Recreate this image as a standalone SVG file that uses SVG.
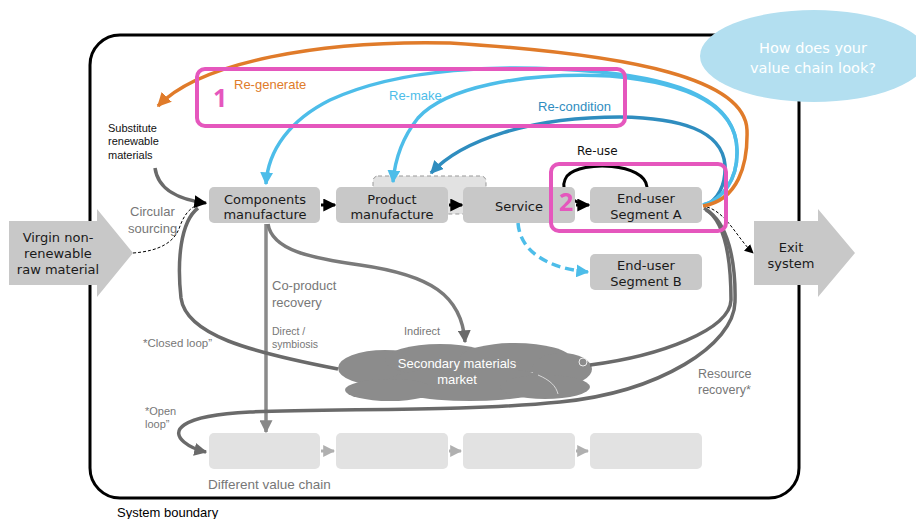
<svg xmlns="http://www.w3.org/2000/svg" width="916" height="519" viewBox="0 0 916 519">
<defs>
<style>
.node{fill:#c8c8c8}
.ghost{fill:#e2e2e2}
.nt{font-family:"DejaVu Sans",Verdana,sans-serif;font-size:13px;fill:#1a1a1a;text-anchor:middle}
.lbl{font-family:"Liberation Sans",Arial,sans-serif;fill:#777}
.pink{fill:none;stroke:#e557bd;stroke-width:4}
.pnum{font-family:"Open Sans","Liberation Sans",sans-serif;font-size:25px;font-weight:bold;fill:#e557bd}
.thick{fill:none;stroke-width:3.5}
</style>
<marker id="mOr" markerUnits="userSpaceOnUse" markerWidth="14" markerHeight="14" viewBox="0 0 10 10" refX="9" refY="5" orient="auto"><path d="M0,0 L10,5 L0,10 z" fill="#e07b2a"/></marker>
<marker id="mLb" markerUnits="userSpaceOnUse" markerWidth="13" markerHeight="13" viewBox="0 0 10 10" refX="9" refY="5" orient="auto"><path d="M0,0 L10,5 L0,10 z" fill="#4dbde9"/></marker>
<marker id="mDb" markerUnits="userSpaceOnUse" markerWidth="13" markerHeight="13" viewBox="0 0 10 10" refX="9" refY="5" orient="auto"><path d="M0,0 L10,5 L0,10 z" fill="#2f8dbf"/></marker>
<marker id="mBk" markerUnits="userSpaceOnUse" markerWidth="13" markerHeight="13" viewBox="0 0 10 10" refX="9" refY="5" orient="auto"><path d="M0,0 L10,5 L0,10 z" fill="#000"/></marker>
<marker id="mBkS" markerUnits="userSpaceOnUse" markerWidth="9" markerHeight="9" viewBox="0 0 10 10" refX="9" refY="5" orient="auto"><path d="M0,0 L10,5 L0,10 z" fill="#000"/></marker>
<marker id="mGr" markerUnits="userSpaceOnUse" markerWidth="13" markerHeight="13" viewBox="0 0 10 10" refX="9" refY="5" orient="auto"><path d="M0,0 L10,5 L0,10 z" fill="#888"/></marker>
<marker id="mDg" markerUnits="userSpaceOnUse" markerWidth="13" markerHeight="13" viewBox="0 0 10 10" refX="9" refY="5" orient="auto"><path d="M0,0 L10,5 L0,10 z" fill="#6a6a6a"/></marker>
<marker id="mLg" markerUnits="userSpaceOnUse" markerWidth="12" markerHeight="12" viewBox="0 0 10 10" refX="9" refY="5" orient="auto"><path d="M0,0 L10,5 L0,10 z" fill="#b0b0b0"/></marker>
</defs>
<rect width="916" height="519" fill="#fff"/>

<g id="system-boundary">
<rect x="90" y="35" width="709" height="463" rx="30" ry="30" fill="none" stroke="#000" stroke-width="3"/>
<text x="117" y="517" font-family="Liberation Sans, Arial, sans-serif" font-size="13" fill="#000">System boundary</text>
</g>

<g id="question">
<ellipse cx="814" cy="56" rx="114" ry="46" fill="#b3dff0"/>
<text x="813" y="53" font-family="DejaVu Sans, Verdana, sans-serif" font-size="14.5" fill="#fff" text-anchor="middle">How does your</text>
<text x="813" y="73" font-family="DejaVu Sans, Verdana, sans-serif" font-size="14.5" fill="#fff" text-anchor="middle">value chain look?</text>
</g>

<g id="virgin">
<path d="M9,221 L97,221 L97,209 L133,253 L97,297 L97,285 L9,285 z" fill="#c8c8c8"/>
<text class="nt" x="58" y="242">Virgin non-</text>
<text class="nt" x="58" y="258">renewable</text>
<text class="nt" x="58" y="274">raw material</text>
</g>

<g id="exit">
<path d="M754,221 L818,221 L818,209 L855,253 L818,297 L818,285 L754,285 z" fill="#c8c8c8"/>
<text class="nt" x="791" y="252">Exit</text>
<text class="nt" x="791" y="268">system</text>
</g>

<g id="product-group">
<rect x="373" y="176" width="113" height="38" rx="5" fill="#e2e2e2" stroke="#999" stroke-width="1" stroke-dasharray="4,3"/>
</g>

<g id="different-value-chain">
<rect class="ghost" x="209" y="433" width="111" height="36" rx="5"/>
<rect class="ghost" x="336" y="433" width="112" height="36" rx="5"/>
<rect class="ghost" x="463" y="433" width="112" height="36" rx="5"/>
<rect class="ghost" x="590" y="433" width="112" height="36" rx="5"/>
<text class="lbl" x="208" y="489" font-size="13.5" fill="#888">Different value chain</text>
</g>

<g id="secondary-market">
<g fill="#8c8c8c">
<ellipse cx="385" cy="368" rx="47" ry="18"/>
<ellipse cx="440" cy="360" rx="55" ry="16"/>
<ellipse cx="515" cy="358" rx="55" ry="15"/>
<ellipse cx="562" cy="369" rx="30" ry="16"/>
<ellipse cx="470" cy="384" rx="85" ry="17"/>
<ellipse cx="390" cy="390" rx="45" ry="11"/>
<ellipse cx="545" cy="387" rx="45" ry="12"/>
</g>
<path d="M538,375 C550,380 556,386 558,394" fill="none" stroke="#d8d8d8" stroke-width="1"/>
<circle cx="583" cy="362" r="4" fill="none" stroke="#eee" stroke-width="1"/>
<text x="457" y="368" font-family="Liberation Sans, Arial, sans-serif" font-size="13" fill="#fff" text-anchor="middle">Secondary materials</text>
<text x="457" y="384" font-family="Liberation Sans, Arial, sans-serif" font-size="13" fill="#fff" text-anchor="middle">market</text>
</g>

<g id="connectors">
<path d="M321,451 L334,451" stroke="#b0b0b0" stroke-width="3" marker-end="url(#mLg)"/>
<path d="M449,451 L461,451" stroke="#b0b0b0" stroke-width="3" marker-end="url(#mLg)"/>
<path d="M576,451 L588,451" stroke="#b0b0b0" stroke-width="3" marker-end="url(#mLg)"/>
<path class="thick" d="M266,224 L266,432" stroke="#8a8a8a" marker-end="url(#mGr)"/>
<path class="thick" d="M268,224 C272,250 310,258 360,265 C430,275 462,295 465,342" stroke="#7a7a7a" marker-end="url(#mDg)"/>
<path class="thick" d="M338,369 C250,352 186,335 181,298 C177,262 180,222 198,208" stroke="#6a6a6a"/>
<path class="thick" d="M155,168 C158,190 180,200 206,203" stroke="#6a6a6a" marker-end="url(#mBk)"/>
<path d="M133,253 C160,251 175,242 180,226 C186,210 194,205 204,203" fill="none" stroke="#000" stroke-width="1" stroke-dasharray="3,2"/>
<path class="thick" d="M704,208 C725,220 731,258 731,300 C730,330 660,356 590,365" stroke="#6a6a6a"/>
<path class="thick" d="M706,210 C728,222 736,262 735,302 C734,345 660,392 560,402 C460,412 330,408 250,412 C175,416 172,432 184,442 C190,447 197,450 206,452" stroke="#6a6a6a" marker-end="url(#mDg)"/>
<path d="M707,207 C727,213 737,238 753,253" fill="none" stroke="#000" stroke-width="1" stroke-dasharray="3,2" marker-end="url(#mBkS)"/>
<path class="thick" d="M518,223 C520,250 545,268 588,272" stroke="#4dbde9" stroke-dasharray="9,5" marker-end="url(#mLb)"/>
<path d="M321,205 L335,205" stroke="#000" stroke-width="3" marker-end="url(#mBk)"/>
<path d="M449,205 L462,205" stroke="#000" stroke-width="3" marker-end="url(#mBk)"/>
<path d="M576,205 L589,205" stroke="#000" stroke-width="3" marker-end="url(#mBk)"/>
<path d="M647,187 C645,163 582,160 567,176 C560,186 565,198 580,203" fill="none" stroke="#000" stroke-width="3"/>
<path class="thick" d="M704,206 C718,200 726,185 725,165 C722,130 680,118 620,117 C530,117 462,140 431,173" stroke="#2f8dbf" marker-end="url(#mDb)"/>
<path class="thick" d="M703,205 C722,200 738,180 737,150 C736,100 680,80 600,72 C500,63 400,68 330,100 C290,120 268,150 266,184" stroke="#4dbde9" marker-end="url(#mLb)"/>
<path class="thick" d="M703,205 C722,200 738,180 737,150 C736,102 680,82 610,76 C520,72 445,88 418,118 C402,138 395,158 393,182" stroke="#4dbde9" marker-end="url(#mLb)"/>
<path class="thick" d="M703,206 C738,200 748,165 747,130 C745,80 640,55 450,43 C320,40 200,62 158,106" stroke="#e07b2a" marker-end="url(#mOr)"/>
</g>

<g id="components"><rect class="node" x="209" y="187" width="111" height="36" rx="5"/><text class="nt" x="265" y="204">Components</text><text class="nt" x="265" y="219">manufacture</text></g>
<g id="product"><rect class="node" x="336" y="187" width="112" height="36" rx="5"/><text class="nt" x="392" y="204">Product</text><text class="nt" x="392" y="219">manufacture</text></g>
<g id="service"><rect class="node" x="463" y="187" width="112" height="36" rx="5"/><text class="nt" x="519" y="211">Service</text></g>
<g id="enduser-a"><rect class="node" x="590" y="187" width="112" height="36" rx="5"/><text class="nt" x="646" y="203">End-user</text><text class="nt" x="646" y="219">Segment A</text></g>
<g id="enduser-b"><rect class="node" x="590" y="254" width="112" height="36" rx="5"/><text class="nt" x="646" y="270">End-user</text><text class="nt" x="646" y="286">Segment B</text></g>

<g id="labels">
<text x="108" y="132" font-family="Liberation Sans, Arial, sans-serif" font-size="11" fill="#111">Substitute</text>
<text x="108" y="145" font-family="Liberation Sans, Arial, sans-serif" font-size="11" fill="#111">renewable</text>
<text x="108" y="159" font-family="Liberation Sans, Arial, sans-serif" font-size="11" fill="#111">materials</text>
<text class="lbl" x="130" y="216" font-size="13">Circular</text>
<text class="lbl" x="128" y="233" font-size="13">sourcing</text>
<text class="lbl" x="272" y="290" font-size="13">Co-product</text>
<text class="lbl" x="272" y="307" font-size="13">recovery</text>
<text class="lbl" x="272" y="335" font-size="10.5">Direct /</text>
<text class="lbl" x="272" y="348" font-size="10.5">symbiosis</text>
<text class="lbl" x="404" y="335" font-size="11">Indirect</text>
<text class="lbl" x="143" y="347" font-size="11.5" fill="#555">*Closed loop”</text>
<text class="lbl" x="145" y="415" font-size="11" fill="#555">*Open</text>
<text class="lbl" x="145" y="428" font-size="11" fill="#555">loop”</text>
<text class="lbl" x="698" y="378" font-size="12.5">Resource</text>
<text class="lbl" x="698" y="394" font-size="12.5">recovery*</text>
<text x="234" y="89" font-family="Liberation Sans, Arial, sans-serif" font-size="13" fill="#e07b2a">Re-generate</text>
<text x="389" y="100" font-family="Liberation Sans, Arial, sans-serif" font-size="13" fill="#4dbde9">Re-make</text>
<text x="538" y="111" font-family="Liberation Sans, Arial, sans-serif" font-size="13" fill="#2f8dbf">Re-condition</text>
<text x="577" y="155" font-family="DejaVu Sans, Verdana, sans-serif" font-size="12" fill="#111">Re-use</text>
</g>

<g id="highlight-1">
<rect class="pink" x="197" y="69" width="428" height="57" rx="8"/>
<text class="pnum" x="213" y="107">1</text>
</g>
<g id="highlight-2">
<rect class="pink" x="551" y="164" width="175" height="67" rx="8"/>
<text class="pnum" x="559" y="211">2</text>
</g>
</svg>
